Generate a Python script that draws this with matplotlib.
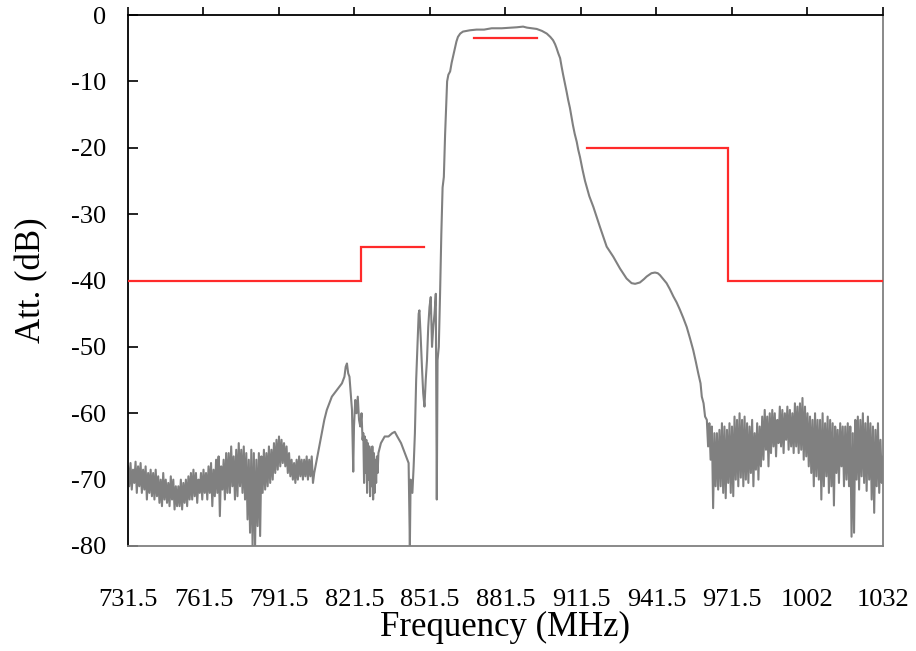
import numpy as np
import matplotlib
matplotlib.use("Agg")
import matplotlib.pyplot as plt
from matplotlib.ticker import FixedLocator, FixedFormatter

# ---------------- data ----------------
x_ticks = [731.5, 761.5, 791.5, 821.5, 851.5, 881.5, 911.5, 941.5, 971.5, 1001.5, 1031.5]
x_tick_labels = ["731.5", "761.5", "791.5", "821.5", "851.5", "881.5", "911.5",
                 "941.5", "971.5", "1002", "1032"]
y_ticks = [0, -10, -20, -30, -40, -50, -60, -70, -80]

# spec mask (red)
mask_low_f = [731.5, 824, 824, 849]
mask_low_db = [-40, -40, -35, -35]
mask_pass_f = [869, 894]
mask_pass_db = [-3.5, -3.5]
mask_high_f = [914, 970, 970, 1031.5]
mask_high_db = [-20, -20, -40, -40]

# measured response, low-side noisy segment (1 MHz grid from 731.5 MHz)
noise1_start = 731.5
noise1_hi = [-68, -67.5, -68.5, -67.3, -68,
             -67.5, -68.5, -68, -69, -68.5,
             -69, -68.5, -69.5, -70, -69,
             -70, -70.5, -69.5, -70, -71,
             -71, -70, -70.5, -70, -69.5,
             -69, -68.5, -69, -70, -69,
             -68.5, -69, -68, -67.5, -68.5,
             -67, -66.5, -68, -67, -66,
             -66, -65, -66.5, -65.5, -64.5,
             -65.5, -65, -66, -67, -65.5,
             -66, -67, -66, -66.5, -65.5,
             -66, -65, -65.5, -64.5, -64,
             -63.5, -64, -64.5, -65, -66,
             -67, -67.5, -67, -66.5, -67,
             -67, -66.5, -67, -66.5]
noise1_lo = [-71, -71.5, -70.5, -72, -71,
             -72, -71.5, -73, -72, -72.5,
             -73, -72.5, -73.5, -74, -73,
             -73.5, -74, -73, -74.5, -74,
             -74, -74.5, -73.5, -74, -73,
             -73, -72.5, -73.5, -72, -73,
             -72, -73, -72, -74, -72.5,
             -72, -75.5, -71.5, -73, -72,
             -72, -71, -73, -72.5, -71,
             -72, -73, -76, -78, -80,
             -80, -77, -78.5, -72, -71.5,
             -71, -70.5, -70, -69, -68.5,
             -68, -67.5, -68, -69, -69.5,
             -70, -70.5, -70, -69.5, -70,
             -69.5, -70, -69.5, -70.5]

# measured response, middle (transition + passband)
mid_f = [805.5, 806.5, 807.5, 808.5, 809.5, 810.5, 811.5, 812.5, 813.5, 814.5,
         815.5, 816.5, 817.5, 818.0, 818.5, 819.0, 819.5, 820.0, 820.5, 821.0,
         821.3, 821.8, 822.3, 822.8, 823.3, 823.8, 824.3, 824.7,
         825.0, 825.3, 825.6, 825.9, 826.2, 826.5, 826.8, 827.1, 827.4, 827.7,
         828.0, 828.3, 828.6, 828.9, 829.2, 829.5, 829.8, 830.1, 830.4, 830.7,
         831.0, 832.0, 833.5, 835.0, 836.5, 837.5, 838.5, 840.0, 841.0, 842.0, 843.0,
         843.5, 843.8, 844.5, 845.0, 845.5, 846.0, 846.5, 847.0, 847.3, 847.8,
         848.3, 848.8, 849.3, 849.8, 850.3, 850.8, 851.3, 851.8, 852.3, 852.8,
         853.3, 853.8, 854.2, 854.5, 855.0, 855.5, 856.0, 856.5, 857.0, 857.5,
         858.0, 858.3, 858.8, 859.5, 860.1, 860.8, 861.4, 862.0, 862.6, 863.5,
         864.6, 866.0, 867.4, 870.0, 873.0, 876.0, 880.0, 884.0, 886.0, 888.5,
         890.0, 892.0, 893.9, 896.0, 897.9, 899.3, 900.4, 901.2, 901.8, 902.5,
         903.2, 903.8, 904.4, 905.1, 905.8, 906.4, 907.1, 907.7, 908.3, 909.0,
         909.8, 910.4, 911.1, 912.1, 913.1, 914.8, 916.4, 919.0, 921.7, 924.3,
         927.0, 929.6, 931.6, 933.0, 934.9, 936.5, 937.6, 939.5, 940.9, 942.0,
         942.9, 944.2, 945.5, 946.8, 948.2, 949.5, 950.8, 952.1, 953.5, 954.8,
         956.1, 957.1, 958.1, 959.0, 959.5, 960.2, 960.8]
mid_db = [-69, -67, -65, -63, -61, -59.5, -58.5, -57.5, -57, -56.5,
          -56, -55.5, -54.5, -53, -52.5, -54, -54.5, -57, -59.5, -68.8,
          -62, -58, -60, -57.5, -61, -62, -60, -64,
          -63, -70.5, -63.5, -69, -64, -72, -64.5, -70, -65, -72.5,
          -65.5, -71, -65, -73, -66, -72, -67, -70.5, -66.5, -69,
          -66, -64.5, -63.5, -63.5, -63, -62.8, -63.5, -64.5, -65.5, -66.5, -67.5,
          -80, -70, -72, -68, -63, -55, -50, -45, -44.5, -48.5,
          -53, -57, -59, -55, -52, -47, -44, -42.5, -50, -47,
          -45, -42, -73, -52, -50, -42, -33, -26, -24.4, -18,
          -12.8, -10, -9, -8.5, -7.2, -6, -5, -4, -3.3, -2.8,
          -2.5, -2.4, -2.3, -2.2, -2.2, -2.0, -2.0, -1.9, -1.85, -1.75,
          -1.9, -2.0, -2.1, -2.4, -2.8, -3.3, -3.8, -4.4, -5, -5.8,
          -6.5, -7.8, -9, -10.3, -11.6, -12.8, -14, -15.3, -16.6, -17.9,
          -19.1, -20.3, -21.4, -23.3, -25.0, -27.3, -28.9, -31.9, -34.9, -36.4,
          -38.2, -39.7, -40.4, -40.5, -40.3, -39.8, -39.4, -38.9, -38.8, -38.9,
          -39.2, -39.8, -40.4, -41.3, -42.4, -43.3, -44.4, -45.6, -47, -48.7,
          -50.5, -52.2, -54, -55.5, -57.5, -58.5, -60.5]

# measured response, high-side noisy segment (1 MHz grid from 961.5 MHz)
noise2_start = 961.5
noise2_hi = [-61, -61.5, -62, -63, -63,
             -62.5, -61.5, -62, -62.5, -61.5,
             -62, -60.5, -61, -60, -61,
             -60.5, -61.5, -62, -61, -63,
             -61.5, -62, -60.5, -59.5, -60.5,
             -60, -59.5, -60, -61, -59,
             -59.5, -60, -59, -59.5, -60,
             -58.5, -59, -58.5, -57.7, -59,
             -60, -60.5, -61, -60, -61,
             -61, -60, -61.5, -60.5, -61,
             -61.5, -62, -62.5, -61.5, -62,
             -62, -61.5, -62, -63, -61,
             -60.5, -61, -60, -61.5, -60.5,
             -61.5, -62, -62.5, -61.5, -64,
             -66.5]
noise2_lo = [-65, -67, -74.3, -71, -71.5,
             -71, -72, -72.8, -70.5, -72,
             -72.5, -70, -71, -69.7, -71,
             -70, -70.5, -69, -71, -68.5,
             -70, -68, -67, -65.5, -68,
             -66, -65, -66.5, -64.5, -65,
             -66, -64, -65.5, -65, -66,
             -65, -66, -65.5, -67, -66.5,
             -68, -69, -71, -69.5, -70,
             -73, -71, -69.5, -72, -71,
             -73.9, -69, -70.5, -68, -71,
             -70, -71, -78.6, -78, -70,
             -71.5, -69.5, -70.5, -71.7, -70,
             -73, -75, -71, -72, -70.5,
             -71.7]


def zigzag(start, hi, lo):
    f = start + np.arange(len(hi), dtype=float)
    xs = np.column_stack([f, f + 0.5]).ravel()
    ys = np.column_stack([hi, lo]).ravel()
    return xs, ys


x1, y1 = zigzag(noise1_start, noise1_hi, noise1_lo)
x2, y2 = zigzag(noise2_start, noise2_hi, noise2_lo)
trace_f = np.concatenate([x1, mid_f, x2])
trace_db = np.concatenate([y1, mid_db, y2])

# ---------------- plot ----------------
fig = plt.figure(figsize=(9.16, 6.51), dpi=100)
ax = fig.add_axes([128 / 916, 105 / 651, 755 / 916, 531 / 651])

gray = "#808080"
red = "#ff2a2a"
ax.plot(trace_f, trace_db, color=gray, lw=1.5, zorder=2)
for f, d in [(mask_low_f, mask_low_db), (mask_pass_f, mask_pass_db), (mask_high_f, mask_high_db)]:
    ax.plot(f, d, color=red, lw=1.6, zorder=3, solid_joinstyle="miter")

ax.set_xlim(731.5, 1031.5)
ax.set_ylim(-80, 0)

serif = ["Liberation Serif", "DejaVu Serif"]
ax.xaxis.set_major_locator(FixedLocator(x_ticks))
ax.xaxis.set_major_formatter(FixedFormatter(x_tick_labels))
ax.set_yticks(y_ticks)
ax.set_yticklabels([str(v) for v in y_ticks])

ax.tick_params(axis="x", which="both", bottom=False, top=True, labelbottom=True,
               direction="out", length=6, width=1.2, pad=25, labelsize=19)
ax.tick_params(axis="y", which="both", left=True, right=False, direction="in",
               length=7, width=1.2, pad=16, labelsize=19)
for lab in ax.get_xticklabels() + ax.get_yticklabels():
    lab.set_family(serif)

ax.spines["left"].set_color("black")
ax.spines["top"].set_color("black")
ax.spines["left"].set_linewidth(1.3)
ax.spines["top"].set_linewidth(1.3)
ax.spines["bottom"].set_color(gray)
ax.spines["right"].set_color(gray)
ax.spines["bottom"].set_linewidth(1.3)
ax.spines["right"].set_linewidth(1.3)

ax.set_xlabel("Frequency (MHz)", family=serif, fontsize=25, labelpad=0)
ax.set_ylabel("Att. (dB)", family=serif, fontsize=25, labelpad=16)

fig.savefig("out.png", dpi=100)
